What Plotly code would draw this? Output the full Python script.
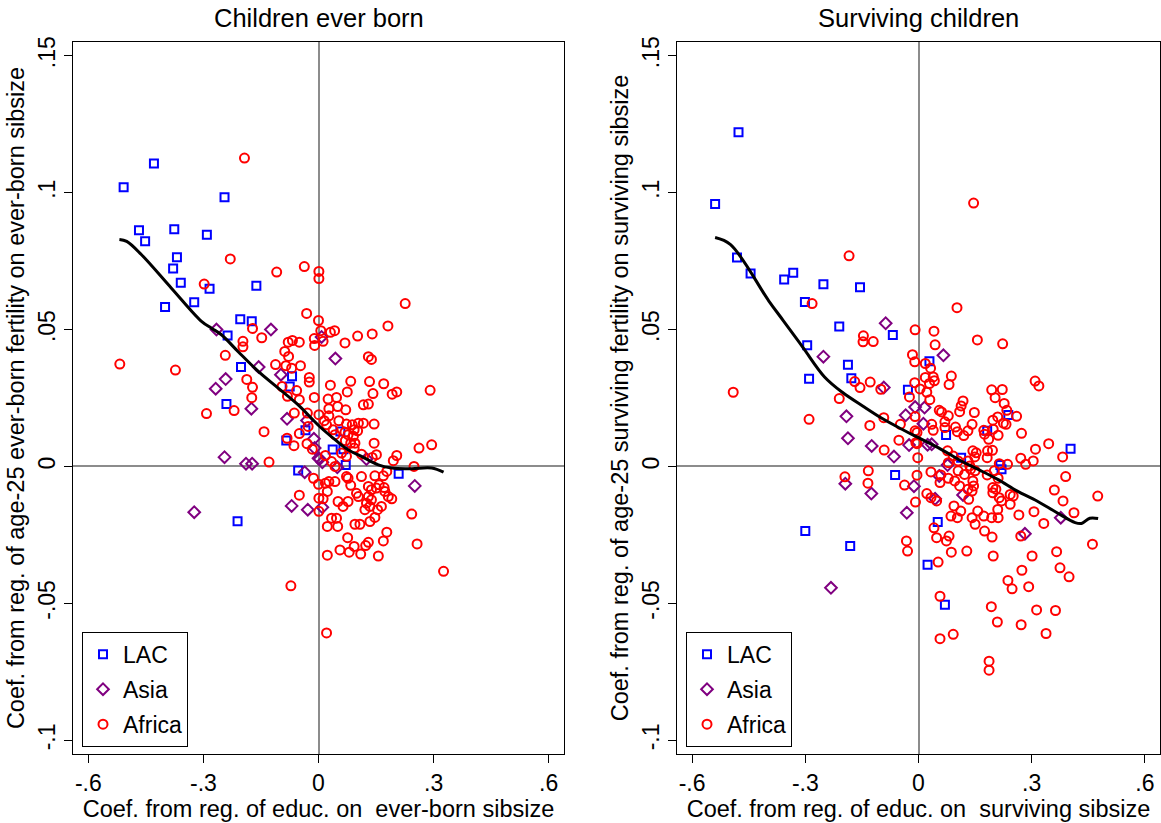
import plotly.graph_objects as go

# ---------------- Left panel: Children ever born ----------------
eb_lac_x = [-0.429, -0.508, -0.245, -0.468, -0.376, -0.452, -0.291, -0.369, -0.379, -0.359,
            -0.284, -0.162, -0.324, -0.400, -0.204, -0.174, -0.237, -0.202, -0.240, -0.211,
            -0.069, -0.075, -0.034, -0.084, -0.053, 0.057, 0.037, 0.065, 0.071, 0.209]
eb_lac_y = [0.1106, 0.102, 0.0983, 0.0863, 0.0866, 0.0822, 0.0846, 0.0764, 0.0723, 0.0671,
            0.0649, 0.066, 0.060, 0.0582, 0.0538, 0.053, 0.0478, 0.0363, 0.0228, -0.020,
            0.0329, 0.0292, 0.0132, 0.0095, -0.0015, 0.0128, 0.0062, 0.0063, 0.0005, -0.0027]

eb_asia_x = [-0.266, -0.124, -0.156, -0.242, -0.268, -0.175, -0.245, -0.189, -0.173, -0.324,
             -0.098, -0.082, -0.030, -0.012, -0.010, 0.000, -0.036, -0.070, -0.028, 0.008,
             0.044, 0.003, 0.010, 0.049, 0.125, 0.251, 0.010]
eb_asia_y = [0.050, 0.050, 0.0363, 0.0319, 0.0284, 0.0211, 0.0034, 0.001, 0.001, -0.0167,
             0.0335, 0.0174, 0.0168, 0.0101, 0.0067, 0.0030, -0.0021, -0.0144, -0.0158, 0.0473,
             0.0394, 0.0027, 0.0015, -0.0003, 0.0027, -0.0071, -0.0149]

eb_afr_x = [-0.193, -0.230, -0.109, -0.037, 0.001, 0.001, -0.298, -0.031, 0.000, -0.172,
            -0.148, -0.197, -0.197, -0.243, -0.518, -0.373, -0.187, -0.172, -0.174, -0.220,
            -0.292, -0.142, -0.129, -0.057, -0.050, -0.011, -0.081, -0.095, -0.063, -0.029,
            0.001, -0.050, -0.064, -0.082, -0.030, -0.016, -0.013, 0.000, -0.050, 0.001,
            0.001, -0.024, -0.024, -0.112, -0.088, -0.078, -0.079, -0.068, -0.050, -0.011,
            -0.010, -0.070, -0.047, -0.085,
            0.226, 0.181, 0.006, 0.031, 0.042, 0.012, 0.069, 0.102, 0.140, 0.130,
            0.138, 0.031, 0.084, 0.133, 0.170, 0.075, 0.142, 0.192, 0.204, 0.291,
            0.025, 0.047,
            0.050, 0.071, 0.117, 0.130, 0.027, 0.027, 0.053, 0.073, 0.088, 0.104,
            0.117, 0.093, 0.102, 0.145, 0.015, 0.021, -0.027, 0.038, 0.043, 0.069,
            0.077, 0.091, 0.095, 0.070, 0.084, 0.093, 0.145, 0.151, 0.140, 0.112,
            0.204, 0.195, 0.249, 0.262, 0.295, 0.018, 0.034, 0.043, 0.060, 0.073,
            0.112, 0.147, 0.169, 0.178, 0.018, 0.027, 0.043, 0.073, 0.077, 0.023,
            0.012, 0.084, 0.130, 0.138, 0.151, 0.158, 0.171, 0.173, 0.191, 0.182,
            0.099, 0.104, 0.130, 0.138, 0.125, 0.121, 0.134, 0.154, 0.164, 0.051,
            0.064, 0.077, 0.034, 0.047, 0.023, 0.050, 0.095, 0.108, 0.134, 0.147,
            0.243, 0.178, 0.169, 0.076, 0.130, 0.123, 0.093, 0.056, 0.080, 0.110,
            0.156, 0.023, 0.257, 0.326, -0.072, 0.021]
eb_afr_y = [0.1126, 0.0758, 0.0710, 0.0730, 0.0712, 0.0686, 0.0666, 0.0559, 0.0533, 0.0504,
            0.047, 0.0457, 0.0437, 0.0406, 0.0374, 0.0352, 0.0318, 0.0289, 0.0251, 0.0204,
            0.0193, 0.0127, 0.0016, 0.0277, 0.0244, 0.0252, 0.0256, 0.0292, 0.0195, 0.0195,
            0.0189, 0.012, 0.0076, 0.0103, 0.0083, 0.0063, -0.0043, -0.0065, -0.0105, -0.0116,
            -0.0164, 0.0325, 0.0308, 0.0372, 0.042, 0.0402, 0.0454, 0.046, 0.0454, 0.0467,
            0.0442, 0.0359, 0.0368, 0.0368,
            0.0595, 0.0513, 0.0496, 0.049, 0.0496, 0.0457, 0.0451, 0.0476, 0.0484, 0.0401,
            0.0391, 0.0297, 0.0311, 0.031, 0.0302, 0.0272, 0.0266, 0.0264, 0.0272, 0.0278,
            0.0246, 0.0252,
            0.0219, 0.0207, 0.0225, 0.0228, 0.0211, 0.0185, 0.0167, 0.0155, 0.0152, 0.0158,
            0.0158, 0.0134, 0.013, 0.0155, 0.0167, 0.0152, 0.0146, 0.0134, 0.0116, 0.0125,
            0.0116, 0.011, 0.0085, 0.0094, 0.0085, 0.0067, 0.0085, 0.0043, 0.0033, 0.0045,
            0.004, 0.0021, 0.0, 0.0067, 0.0079, 0.004, 0.0018, 0.0, 0.0049, 0.0037,
            -0.0037, -0.0034, -0.0034, -0.0018, -0.0061, -0.0055, -0.0055, -0.0037, -0.0043, -0.0091,
            -0.0118, -0.0069, -0.0073, -0.0085, -0.0079, -0.0067, -0.0077, -0.0091, -0.0118, -0.011,
            -0.0098, -0.011, -0.011, -0.0122, -0.0134, -0.0158, -0.0146, -0.0158, -0.0146, -0.0128,
            -0.0146, -0.0128, -0.0189, -0.0189, -0.0219, -0.0219, -0.0211, -0.0211, -0.0201, -0.0186,
            -0.0174, -0.024, -0.0272, -0.026, -0.0277, -0.0289, -0.0292, -0.0305, -0.0313, -0.032,
            -0.0327, -0.0324, -0.0283, -0.0383, -0.0436, -0.0608]

eb_fit_x = [-0.519, -0.500, -0.462, -0.384, -0.305, -0.279, -0.253, -0.210, -0.157, -0.105,
            -0.053, 0.003, 0.043, 0.077, 0.112, 0.156, 0.191, 0.243, 0.295, 0.326]
eb_fit_y = [0.0829, 0.0822, 0.0774, 0.0652, 0.053, 0.0505, 0.0481, 0.042, 0.0347, 0.0286,
            0.0225, 0.0146, 0.0098, 0.0061, 0.0037, 0.0006, -0.0006, -0.0008, -0.0006, -0.0021]

# ---------------- Right panel: Surviving children ----------------
sv_lac_x = [-0.477, -0.539, -0.481, -0.445, -0.356, -0.332, -0.252, -0.155, -0.301, -0.210,
            -0.068, -0.295, -0.187, -0.290, -0.178, -0.028, -0.062, -0.300, -0.181, 0.029,
            0.238, 0.073, 0.182, 0.113, 0.217, 0.220, 0.403, 0.051, 0.024, 0.070]
sv_lac_y = [0.122, 0.0958, 0.0763, 0.0705, 0.0683, 0.0707, 0.0665, 0.0654, 0.0601, 0.0511,
            0.048, 0.0443, 0.0371, 0.032, 0.0322, 0.028, -0.0031, -0.0236, -0.029, 0.0384,
            0.0188, 0.0115, 0.013, 0.0032, 0.0005, -0.001, 0.0065, -0.0203, -0.0359, -0.0505]

sv_asia_x = [-0.087, -0.252, -0.092, -0.009, -0.191, -0.034, -0.187, -0.124, -0.025, -0.065,
             -0.194, -0.012, -0.125, -0.031, -0.232, 0.066, 0.016, 0.013, 0.024, 0.035,
             0.077, 0.055, 0.044, 0.118, 0.282, 0.377]
sv_asia_y = [0.0523, 0.0401, 0.0288, 0.0217, 0.0183, 0.0187, 0.0103, 0.0075, 0.0078, 0.0036,
             -0.0063, -0.0072, -0.0099, -0.0169, -0.0443, 0.0406, 0.0215, 0.0156, 0.0079, 0.0081,
             0.0005, -0.0035, -0.0118, -0.0104, -0.0246, -0.0187]

sv_afr_x = [-0.184, -0.282,
            -0.146, -0.147, -0.120, -0.009, -0.016, -0.010, -0.169, -0.155, -0.128, -0.100,
            -0.010, -0.024, -0.491, -0.210, -0.290, -0.092, -0.009, -0.129, -0.048, -0.009,
            -0.052, -0.091, -0.004, -0.002, -0.195, -0.133, -0.134, -0.037, -0.004, -0.008,
            -0.032, -0.029,
            0.146, 0.102, 0.041, 0.044, 0.156, 0.223, 0.018, 0.032, 0.087, 0.081,
            0.018, 0.039, 0.042, 0.029, 0.004, 0.022, 0.030, 0.194, 0.222, 0.203,
            0.309, 0.319, 0.118, 0.113, 0.109, 0.055, 0.061, 0.148, 0.079, 0.227,
            0.234, 0.260, 0.210, 0.197,
            0.225, 0.232, 0.035, 0.039, 0.070, 0.070, 0.098, 0.103, 0.120, 0.142,
            0.131, 0.173, 0.175, 0.186, 0.211, 0.198, 0.273, -0.004, -0.007,
            0.077, 0.092, 0.079, 0.105, 0.131, 0.136, 0.144, 0.149, 0.153, 0.138, 0.150,
            0.183, 0.196, 0.182, 0.214, 0.236, 0.201, 0.211, 0.182, 0.197, 0.205,
            0.197, 0.214, 0.220, 0.243, 0.251, 0.243,
            0.271, 0.284, 0.304, 0.310, 0.345, 0.382, 0.390, 0.360, 0.383, 0.412,
            0.475, 0.461, 0.306, 0.332, 0.266, 0.271, 0.195, 0.175,
            0.033, 0.059, 0.079, 0.057, 0.096, 0.109, 0.105, 0.122, 0.144, 0.146,
            0.131, 0.142, 0.022, 0.033, 0.048,
            0.094, 0.112, 0.103, 0.086, 0.133, 0.157, 0.173, 0.142, 0.150, 0.210,
            0.211, 0.194,
            0.041, 0.048, 0.074, 0.081, 0.087, 0.128, 0.052,
            0.198, 0.301, 0.274, 0.366, 0.375, 0.399, 0.237, 0.248, 0.292, 0.057,
            0.193, 0.313, 0.363, 0.209, 0.272, 0.338, 0.057, 0.092, 0.187, 0.187]
sv_afr_y = [0.0769, 0.0595,
            0.0477, 0.0455, 0.0456, 0.0499, 0.0408, 0.0382, 0.031, 0.0288, 0.0308, 0.0282,
            0.0306, 0.0254, 0.0271, 0.0248, 0.0172, 0.0178, 0.0182, 0.015, 0.0154, 0.013,
            0.0096, 0.006, 0.0083, 0.0032, -0.0038, -0.0016, -0.0061, -0.0068, -0.0032, -0.013,
            -0.0272, -0.0309,
            0.0962, 0.058, 0.0494, 0.0444, 0.0462, 0.0448, 0.0376, 0.0359, 0.033, 0.0299,
            0.0325, 0.0327, 0.0313, 0.0303, 0.0283, 0.0271, 0.0244, 0.028, 0.0281, 0.0251,
            0.0312, 0.0294, 0.0239, 0.0221, 0.020, 0.0205, 0.0199, 0.0197, 0.0185, 0.023,
            0.0205, 0.0183, 0.0181, 0.0169,
            0.0158, 0.0154, 0.0154, 0.0132, 0.0163, 0.0142, 0.0144, 0.0127, 0.0113, 0.0154,
            0.013, 0.0132, 0.0118, 0.0099, 0.0114, 0.0136, 0.0121, 0.0124, 0.0087,
            0.0057, 0.0038, 0.0014, 0.002, 0.002, 0.0002, 0.0057, 0.0035, 0.005, -0.001, -0.0016,
            0.0057, 0.0059, 0.0032, 0.001, 0.0008, -0.0016, -0.0043, -0.0031, -0.0077, -0.0083,
            -0.0096, -0.0114, -0.0126, -0.0102, -0.0108, -0.0138,
            0.003, 0.0008, 0.002, 0.0063, 0.0083, 0.0035, -0.0037, -0.0086, -0.0126, -0.0169,
            -0.0108, -0.0284, -0.0165, -0.0208, -0.0177, -0.0254, -0.0258, -0.0236,
            -0.002, -0.0031, -0.0043, -0.0059, -0.0053, -0.0071, -0.0016, -0.0029, -0.0053, -0.0071,
            -0.0083, -0.009, -0.0099, -0.0114, -0.0126,
            -0.0144, -0.0163, -0.0187, -0.0181, -0.012, -0.0163, -0.0181, -0.0187, -0.0211, -0.0157,
            -0.0187, -0.0187,
            -0.0224, -0.026, -0.0272, -0.0254, -0.0313, -0.0309, -0.0349,
            -0.0327, -0.0327, -0.0379, -0.0311, -0.037, -0.0403, -0.0416, -0.0447, -0.0439, -0.0474,
            -0.0512, -0.0524, -0.0526, -0.0568, -0.0578, -0.061, -0.0629, -0.0613, -0.0711, -0.0744]

sv_fit_x = [-0.539, -0.498, -0.397, -0.358, -0.306, -0.249, -0.201, -0.148, -0.096, -0.044,
            0.0, 0.052, 0.113, 0.157, 0.21, 0.262, 0.314, 0.367, 0.415, 0.432, 0.454, 0.476]
sv_fit_y = [0.0836, 0.081, 0.0605, 0.0532, 0.0434, 0.0327, 0.027, 0.0221, 0.0175, 0.0136,
            0.0105, 0.0069, 0.002, -0.001, -0.0047, -0.009, -0.0126, -0.0169, -0.0205, -0.0208,
            -0.0189, -0.019]

x_tickvals = [-0.6, -0.3, 0, 0.3, 0.6]
x_ticktext = ["-.6", "-.3", "0", ".3", ".6"]
y_tickvals = [-0.1, -0.05, 0, 0.05, 0.1, 0.15]
y_ticktext = ["-.1", "-.05", "0", ".05", ".1", ".15"]

BLUE = "#0000FF"
PURPLE = "#800080"
RED = "#FF0000"
FONT = "Liberation Sans, Arial, Helvetica, sans-serif"

fig = go.Figure()

def add_panel(xa, ya, legend, lac, asia, afr, fit):
    fig.add_trace(go.Scatter(x=lac[0], y=lac[1], mode="markers", name="LAC",
                             xaxis=xa, yaxis=ya, legend=legend, legendgroup=legend + "a",
                             marker=dict(symbol="square-open", size=8, color=BLUE,
                                         line=dict(width=2, color=BLUE))))
    fig.add_trace(go.Scatter(x=asia[0], y=asia[1], mode="markers", name="Asia",
                             xaxis=xa, yaxis=ya, legend=legend, legendgroup=legend + "b",
                             marker=dict(symbol="diamond-open", size=9, color=PURPLE,
                                         line=dict(width=2, color=PURPLE))))
    fig.add_trace(go.Scatter(x=afr[0], y=afr[1], mode="markers", name="Africa",
                             xaxis=xa, yaxis=ya, legend=legend, legendgroup=legend + "c",
                             marker=dict(symbol="circle-open", size=9, color=RED,
                                         line=dict(width=2, color=RED))))
    fig.add_trace(go.Scatter(x=fit[0], y=fit[1], mode="lines", showlegend=False,
                             xaxis=xa, yaxis=ya, line=dict(color="black", width=3, shape="spline")))

add_panel("x", "y", "legend", (eb_lac_x, eb_lac_y), (eb_asia_x, eb_asia_y),
          (eb_afr_x, eb_afr_y), (eb_fit_x, eb_fit_y))
add_panel("x2", "y2", "legend2", (sv_lac_x, sv_lac_y), (sv_asia_x, sv_asia_y),
          (sv_afr_x, sv_afr_y), (sv_fit_x, sv_fit_y))

W, H = 1161, 823
ML, MR, MT, MB = 73, 1, 42, 69
PW = W - ML - MR
d1 = [0, (564 - ML) / PW]
d2 = [(677 - ML) / PW, 1]

def xaxis(domain, anchor, title):
    return dict(domain=domain, anchor=anchor, range=[-0.64, 0.64], tickvals=x_tickvals,
                ticktext=x_ticktext, ticks="outside", ticklen=8, tickwidth=1, tickcolor="black",
                showline=True, linecolor="black", linewidth=1.3, mirror=True, showgrid=False,
                zeroline=True, zerolinecolor="#8c8c8c", zerolinewidth=2,
                tickfont=dict(family=FONT, size=23, color="black"),
                title=dict(text=title, font=dict(family=FONT, size=23.5, color="black"), standoff=0))

def yaxis(anchor, title):
    return dict(domain=[0, 1], anchor=anchor, range=[-0.105, 0.155], tickvals=y_tickvals,
                ticktext=y_ticktext, tickangle=-90, ticks="outside", ticklen=8, tickwidth=1,
                tickcolor="black", showline=True, linecolor="black", linewidth=1.3, mirror=True,
                showgrid=False, zeroline=True, zerolinecolor="#8c8c8c", zerolinewidth=2,
                tickfont=dict(family=FONT, size=23, color="black"),
                title=dict(text=title, font=dict(family=FONT, size=23.5, color="black"), standoff=2))

legend_style = dict(bordercolor="black", borderwidth=1, bgcolor="white",
                    font=dict(family=FONT, size=23, color="black"),
                    tracegroupgap=2, xanchor="left", yanchor="bottom", y=0.01,
                    itemwidth=30)

fig.update_layout(
    width=W, height=H,
    margin=dict(l=ML, r=MR, t=MT, b=MB),
    paper_bgcolor="white", plot_bgcolor="white",
    font=dict(family=FONT, color="black"),
    xaxis=xaxis(d1, "y", "Coef. from reg. of educ. on\u00a0 ever-born sibsize"),
    yaxis=yaxis("x", "Coef. from reg. of age-25 ever-born fertility on ever-born sibsize"),
    xaxis2=xaxis(d2, "y2", "Coef. from reg. of educ. on\u00a0 surviving sibsize"),
    yaxis2=yaxis("x2", "Coef. from reg. of age-25 surviving fertility on surviving sibsize"),
    legend=dict(x=(82 - ML) / PW, **legend_style),
    legend2=dict(x=(686 - ML) / PW, **legend_style),
    annotations=[
        dict(text="Children ever born", x=(d1[0] + d1[1]) / 2, y=1.0337, xref="paper", yref="paper",
             xanchor="center", yanchor="middle", showarrow=False,
             font=dict(family=FONT, size=25.5, color="black")),
        dict(text="Surviving children", x=(d2[0] + d2[1]) / 2, y=1.0337, xref="paper", yref="paper",
             xanchor="center", yanchor="middle", showarrow=False,
             font=dict(family=FONT, size=25.5, color="black")),
    ],
)

fig.write_html("out.html")
